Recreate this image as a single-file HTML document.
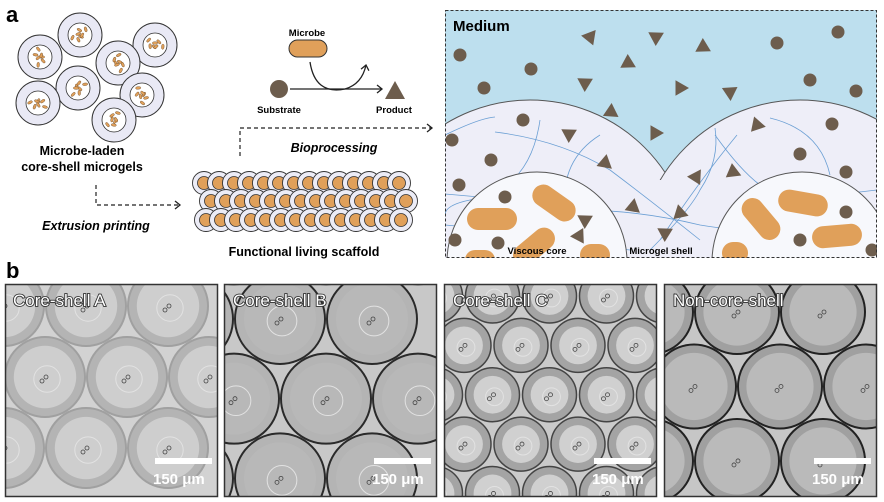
<!DOCTYPE html>
<html><head><meta charset="utf-8"><style>
html,body{margin:0;padding:0;background:#fff;width:884px;height:502px;overflow:hidden}
svg{display:block}
text{font-family:"Liberation Sans",Arial,sans-serif}
.lab{font-size:17px;fill:#fff;stroke:#333;stroke-width:1.8px;paint-order:stroke;font-weight:normal}
.sb{font-size:15px;font-weight:bold;fill:#fff}
</style></head><body>
<svg id="s" width="884" height="502" viewBox="0 0 884 502" xmlns="http://www.w3.org/2000/svg">
<defs>
<marker id="ah" markerWidth="10" markerHeight="10" refX="7" refY="5" orient="auto" markerUnits="userSpaceOnUse"><path d="M2,1 L7,5 L2,9" fill="none" stroke="#222" stroke-width="1.3"/></marker>
<clipPath id="cr"><rect x="445" y="10" width="432" height="248"/></clipPath>
<clipPath id="pA"><rect x="5" y="284" width="213" height="213"/></clipPath>
<clipPath id="pB"><rect x="224" y="284" width="213" height="213"/></clipPath>
<clipPath id="pC"><rect x="444" y="284" width="213" height="213"/></clipPath>
<clipPath id="pD"><rect x="664" y="284" width="213" height="213"/></clipPath>
</defs>
<text x="6" y="22" font-size="22" font-weight="bold">a</text>
<text x="6" y="278" font-size="22" font-weight="bold">b</text>
<g id="gels"></g>
<text x="82" y="155" font-size="12.5" font-weight="bold" text-anchor="middle">Microbe-laden</text>
<text x="82" y="171" font-size="12.5" font-weight="bold" text-anchor="middle">core-shell microgels</text>
<path d="M96,185 V205 H180" fill="none" stroke="#222" stroke-width="1.2" stroke-dasharray="4,3" marker-end="url(#ah)"/>
<text x="96" y="230" font-size="12.5" font-weight="bold" font-style="italic" text-anchor="middle">Extrusion printing</text>
<g id="scaf"></g>
<text x="304" y="256" font-size="12.5" font-weight="bold" text-anchor="middle">Functional living scaffold</text>
<path d="M240,156 V128 H432" fill="none" stroke="#222" stroke-width="1.2" stroke-dasharray="4,3" marker-end="url(#ah)"/>
<text x="334" y="152" font-size="12.5" font-weight="bold" font-style="italic" text-anchor="middle">Bioprocessing</text>
<text x="307" y="36" font-size="9.5" font-weight="bold" text-anchor="middle">Microbe</text>
<rect x="289" y="40" width="38" height="17" rx="8.5" fill="#e0a05a" stroke="#333" stroke-width="1"/>
<path d="M310,62 Q315,95 345,89 Q362,84 366,65" fill="none" stroke="#222" stroke-width="1.3" marker-end="url(#ah)"/>
<circle cx="279" cy="89" r="9" fill="#6d5d4d"/>
<path d="M290,89 H382" stroke="#222" stroke-width="1.3" marker-end="url(#ah)"/>
<polygon points="385,99 405,99 395,81" fill="#6d5d4d"/>
<text x="279" y="113" font-size="9.5" font-weight="bold" text-anchor="middle">Substrate</text>
<text x="394" y="113" font-size="9.5" font-weight="bold" text-anchor="middle">Product</text>
<g clip-path="url(#cr)">
<rect x="445" y="10" width="432" height="248" fill="#bddfee"/>
<circle cx="530" cy="262" r="162" fill="#eeeef8" stroke="#555" stroke-width="1"/>
<circle cx="800" cy="262" r="162" fill="#eeeef8" stroke="#555" stroke-width="1"/>
<rect x="620" y="180" width="90" height="80" fill="#eeeef8"/>
<g fill="none" stroke="#6b9fd4" stroke-width="0.8">
<path d="M445,135 Q480,118 495,117"/><path d="M495,132 Q560,140 610,170 Q650,200 700,240"/>
<path d="M540,120 Q530,190 470,200 Q445,205 445,215"/><path d="M445,194 Q520,200 560,210 Q630,208 700,225 Q760,235 800,228"/>
<path d="M600,135 Q560,160 565,210 Q575,245 630,250"/><path d="M715,128 Q720,160 700,190 Q690,210 650,250"/>
<path d="M715,135 Q740,170 760,185 Q800,200 877,190"/><path d="M770,118 Q820,130 830,175"/>
<path d="M737,135 Q700,180 660,240"/><path d="M445,225 Q500,230 560,235"/>
</g>
<circle cx="537" cy="262" r="90" fill="#f7f8fc" stroke="#555" stroke-width="1"/>
<circle cx="802" cy="262" r="90" fill="#f7f8fc" stroke="#555" stroke-width="1"/>
<g fill="#e0a05a">
<rect x="467" y="208" width="50" height="22" rx="11"/><rect x="530" y="192" width="48" height="22" rx="11" transform="rotate(35 554 203)"/>
<rect x="510" y="236" width="48" height="22" rx="11" transform="rotate(-40 534 247)"/><rect x="580" y="244" width="30" height="22" rx="11"/>
<rect x="465" y="250" width="30" height="20" rx="10"/>
<rect x="737" y="208" width="48" height="22" rx="11" transform="rotate(50 761 219)"/><rect x="778" y="192" width="50" height="22" rx="11" transform="rotate(10 803 203)"/>
<rect x="812" y="225" width="50" height="22" rx="11" transform="rotate(-5 837 236)"/><rect x="722" y="242" width="26" height="22" rx="11"/>
</g>
<g id="dots" fill="#6d5d4d"></g>
</g>
<rect x="445.5" y="10.5" width="431" height="247" fill="none" stroke="#333" stroke-dasharray="3,2"/>
<text x="453" y="31" font-size="15" font-weight="bold">Medium</text>
<text x="537" y="254" font-size="9.5" font-weight="bold" text-anchor="middle">Viscous core</text>
<text x="661" y="254" font-size="9.5" font-weight="bold" text-anchor="middle">Microgel shell</text>
<g id="mic"></g>
<g id="bars"></g>
<text class="lab" x="13" y="306">Core-shell A</text>
<text class="lab" x="233" y="306">Core-shell B</text>
<text class="lab" x="453" y="306">Core-shell C</text>
<text class="lab" x="673" y="306">Non-core-shell</text>
</svg>
<script>
var NS="http://www.w3.org/2000/svg";
function el(p,t,a){var e=document.createElementNS(NS,t);for(var k in a)e.setAttribute(k,a[k]);p.appendChild(e);return e;}
var g=document.getElementById('gels');
[[40,57],[80,35],[155,45],[118,63],[78,88],[38,103],[142,95],[114,120]].forEach(function(c,i){
 el(g,'circle',{cx:c[0],cy:c[1],r:22,fill:'#e9e9f5',stroke:'#333','stroke-width':1});
 el(g,'circle',{cx:c[0],cy:c[1],r:12,fill:'#fff',stroke:'#333','stroke-width':0.8});
 for(var j=0;j<7;j++){var a=j*0.9+i,r=(j%3)*3+2;var px=c[0]+r*Math.cos(a),py=c[1]+r*Math.sin(a);el(g,'ellipse',{cx:px,cy:py,rx:2.6,ry:1.3,fill:'#e0a05a',stroke:'#6a4a2a','stroke-width':0.4,transform:'rotate('+(j*47+i*20)+' '+px+' '+py+')'});}
});
var s=document.getElementById('scaf');
[[183,0],[201,7],[220,2]].forEach(function(r,ri){
 for(var x=204+r[1];x<=406;x+=15){
  el(s,'circle',{cx:x,cy:r[0],r:11.5,fill:'#ececf6',stroke:'#333','stroke-width':0.9});
  el(s,'circle',{cx:x,cy:r[0],r:6.5,fill:'#e0a05a',stroke:'#333','stroke-width':0.8});
 }});
var d=document.getElementById('dots');
[[460,55],[531,69],[484,88],[777,43],[838,32],[810,80],[856,91],[523,120],[452,140],[491,160],[459,185],[505,197],[832,124],[800,154],[846,172],[846,212],[800,240],[872,250],[498,243],[455,240]].forEach(function(c){el(d,'circle',{cx:c[0],cy:c[1],r:6.5});});
function tri(x,y,a){var p=[];for(var k=0;k<3;k++){var t=a+k*2.094;p.push((x+9*Math.cos(t)).toFixed(1)+','+(y+9*Math.sin(t)).toFixed(1));}el(d,'polygon',{points:p.join(' ')});}
[[590,37,3.3],[656,37,1.6],[703,47,0.5],[628,63,-1.6],[585,83,1.6],[680,88,0],[730,92,3.6],[611,112,-1.5],[655,133,0],[569,134,1.6],[757,125,0.2],[605,163,2.8],[696,177,-1],[733,172,2.5],[633,207,-1.4],[585,220,1.6],[579,236,3.1],[680,213,0.3],[665,233,1.6]].forEach(function(t){tri(t[0],t[1],t[2]);});
var m=document.getElementById('mic');
function panel(id,x0,bg,R,dx,ox,oy,edge,ring,ewidth,core,cf){
 var gg=el(m,'g',{'clip-path':'url(#'+id+')'});
 el(gg,'rect',{x:x0,y:284,width:213,height:213,fill:bg});
 var dy=dx*0.866,row=0;
 for(var y=284+oy-dy;y<510;y+=dy,row++){
  for(var x=x0+ox+(row%2?dx/2:0)-dx;x<x0+240;x+=dx){
   el(gg,'circle',{cx:x,cy:y,r:R,fill:ring,stroke:edge,'stroke-width':ewidth});
   el(gg,'circle',{cx:x,cy:y,r:R*cf,fill:core});
   if(id!='pD')el(gg,'circle',{cx:x+2,cy:y+2,r:R*0.33,fill:'none',stroke:'#e2e2e2','stroke-width':1});
   el(gg,'circle',{cx:x-3,cy:y+4,r:2,fill:'none',stroke:'#444','stroke-width':0.8});
   el(gg,'circle',{cx:x+1,cy:y,r:2,fill:'none',stroke:'#444','stroke-width':0.8});
  }}
 el(m,'rect',{x:x0+0.5,y:284.5,width:212,height:212,fill:'none',stroke:'#333','stroke-width':1.5});
 var b=document.getElementById('bars');
 el(b,'rect',{x:x0+150,y:458,width:57,height:6,fill:'#fff'});
 var t=el(b,'text',{x:x0+148,y:484,'class':'sb'});t.textContent='150 \u03bcm';
}
panel('pA',5,'#d2d2d2',40,82,40,22,'#a0a0a0','#b4b4b4',2,'#cecece',0.78);
panel('pB',224,'#c8c8c8',45,92,10,35,'#2a2a2a','#b4b4b4',2,'#b8b8b8',0.8);
panel('pC',444,'#cacaca',27,57,20,12,'#444','#a4a4a4',1.5,'#d0d0d0',0.7);
panel('pD',664,'#c6c6c6',42,86,30,28,'#222','#a0a0a0',2,'#bababa',0.8);
</script>
</body></html>
